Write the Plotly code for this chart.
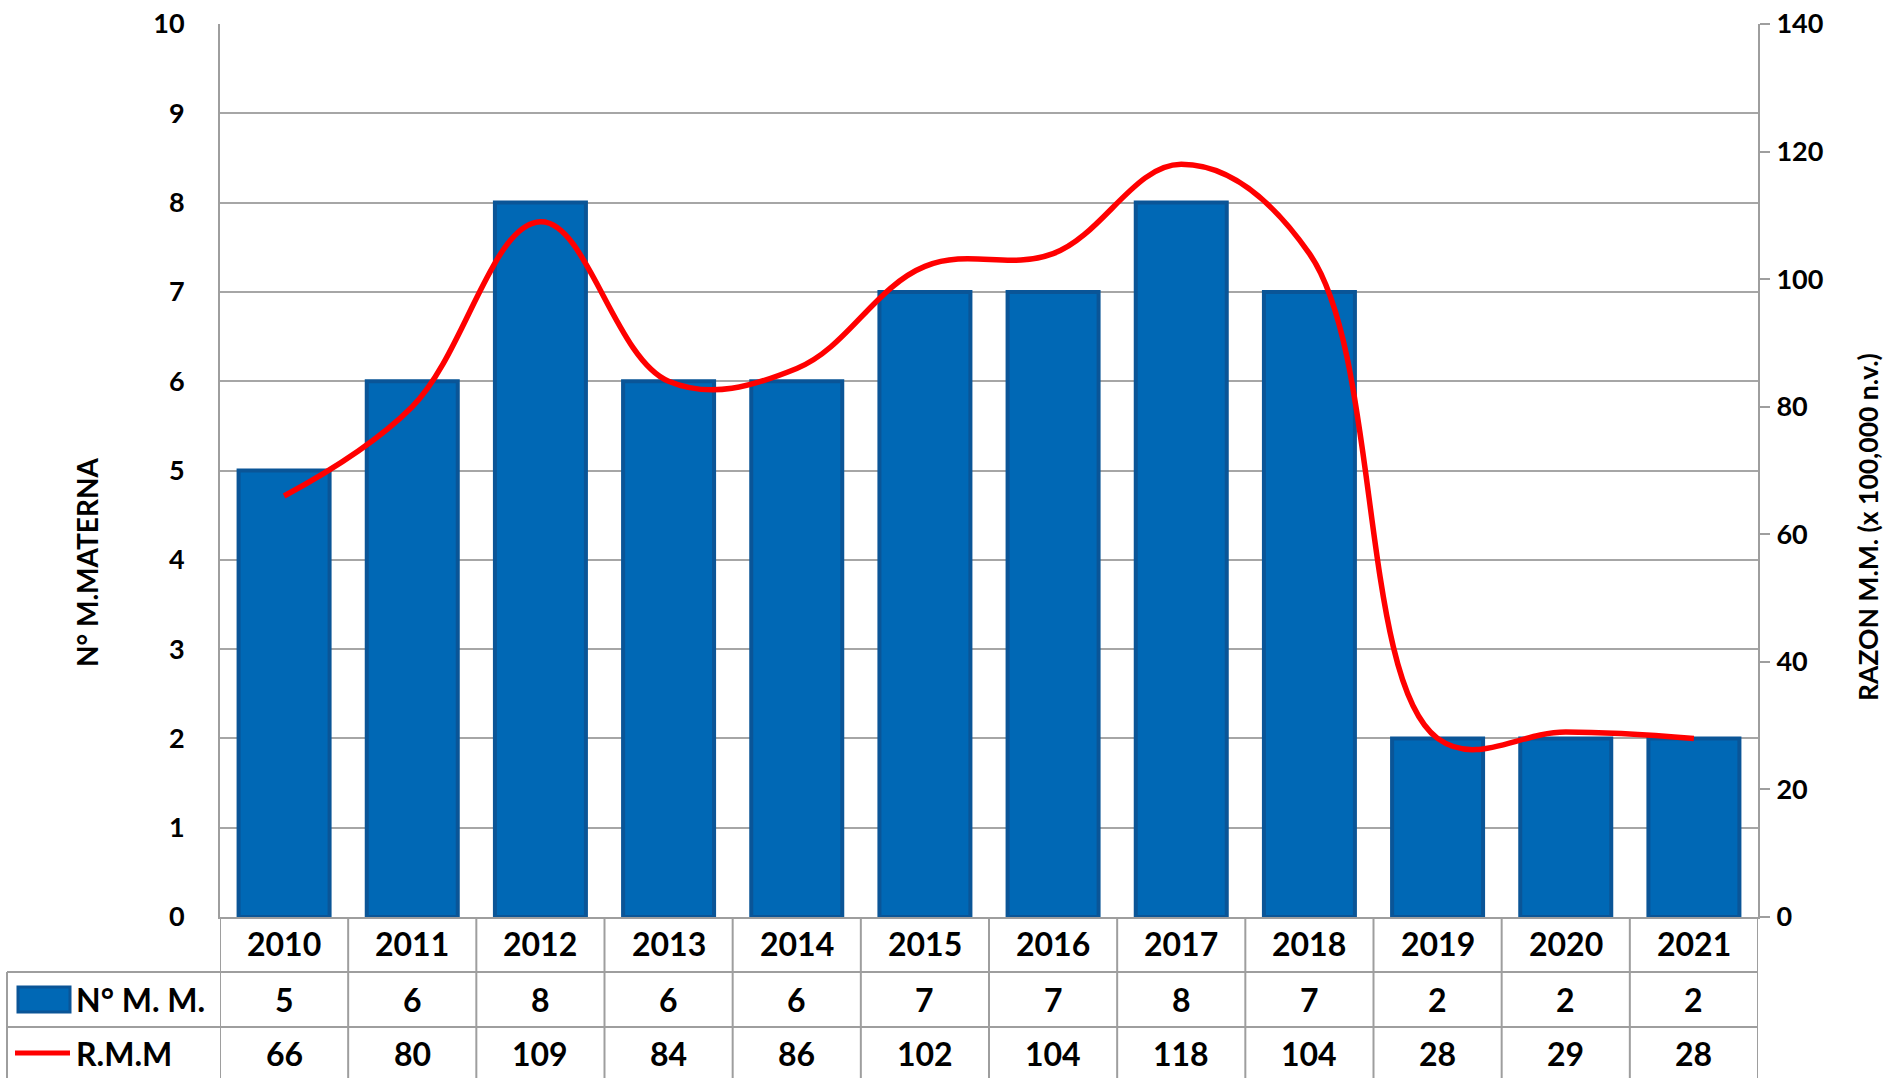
import plotly.graph_objects as go

years = ["2010", "2011", "2012", "2013", "2014", "2015", "2016", "2017", "2018", "2019", "2020", "2021"]
num_mm = [5, 6, 8, 6, 6, 7, 7, 8, 7, 2, 2, 2]
rmm = [66, 80, 109, 84, 86, 102, 104, 118, 104, 28, 29, 28]
left_ticks = list(range(0, 11))
right_ticks = list(range(0, 141, 20))

W, H = 1888, 1078
FONT = "Lato, 'Open Sans', sans-serif"
GRID = "#A6A6A6"
LINEC = "#9E9E9E"
BAR = "#0068B5"
BAR_EDGE = "#0A5597"

def px(x):
    return x / W

def py(y):
    return (H - y) / H

x0, x1 = 220, 1758
ytop, ybot = 24, 917

fig = go.Figure()
fig.add_trace(go.Bar(
    x=years, y=num_mm, name="N° M. M.",
    marker=dict(color=BAR, line=dict(color=BAR_EDGE, width=4)),
    width=0.71, yaxis="y",
))
fig.add_trace(go.Scatter(
    x=years, y=rmm, name="R.M.M", mode="lines",
    line=dict(color="#FF0000", width=5.5, shape="spline", smoothing=1.1),
    yaxis="y2",
))

shapes = []
# table column lines
for i in range(len(years) + 1):
    shapes.append(dict(type="line", xref="x", yref="paper",
                       x0=i - 0.5, x1=i - 0.5, y0=py(ybot), y1=py(H + 5),
                       line=dict(color=LINEC, width=2)))
# table row lines
for yy in (972, 1027):
    shapes.append(dict(type="line", xref="paper", yref="paper",
                       x0=px(7), x1=px(x1), y0=py(yy), y1=py(yy),
                       line=dict(color=LINEC, width=2)))
shapes.append(dict(type="line", xref="paper", yref="paper",
                   x0=px(7), x1=px(7), y0=py(972), y1=py(H + 5),
                   line=dict(color=LINEC, width=2)))
# legend keys
shapes.append(dict(type="rect", xref="paper", yref="paper",
                   x0=px(18), x1=px(70), y0=py(1012), y1=py(987),
                   fillcolor=BAR, line=dict(color=BAR_EDGE, width=3)))
shapes.append(dict(type="line", xref="paper", yref="paper",
                   x0=px(15), x1=px(70), y0=py(1053), y1=py(1053),
                   line=dict(color="#FF0000", width=5)))

TF = dict(size=32, color="black", family=FONT, weight="bold")
ann = []
for i, yr in enumerate(years):
    ann.append(dict(x=i, y=py(944), xref="x", yref="paper", text=yr,
                    showarrow=False, font=TF, xanchor="center", yanchor="middle"))
    ann.append(dict(x=i, y=py(999), xref="x", yref="paper", text=str(num_mm[i]),
                    showarrow=False, font=TF, xanchor="center", yanchor="middle"))
    ann.append(dict(x=i, y=py(1053), xref="x", yref="paper", text=str(rmm[i]),
                    showarrow=False, font=TF, xanchor="center", yanchor="middle"))
ann.append(dict(x=px(74), y=py(999), xref="paper", yref="paper", text="N° M. M.",
                showarrow=False, font=TF, xanchor="left", yanchor="middle"))
ann.append(dict(x=px(74), y=py(1053), xref="paper", yref="paper", text="R.M.M",
                showarrow=False, font=TF, xanchor="left", yanchor="middle"))
ann.append(dict(x=px(87), y=py(562), xref="paper", yref="paper", text="N° M.MATERNA",
                showarrow=False, textangle=-90,
                font=dict(size=28, color="black", family=FONT, weight="bold"),
                xanchor="center", yanchor="middle"))
ann.append(dict(x=px(1868), y=py(527), xref="paper", yref="paper",
                text="RAZON M.M. (x 100,000 n.v.)",
                showarrow=False, textangle=-90,
                font=dict(size=26.5, color="black", family=FONT, weight="bold"),
                xanchor="center", yanchor="middle"))

fig.update_layout(
    width=W, height=H,
    margin=dict(l=0, r=0, t=0, b=0, autoexpand=False),
    paper_bgcolor="white", plot_bgcolor="white",
    showlegend=False,
    xaxis=dict(type="category", domain=[px(x0), px(x1)], showticklabels=False, ticks="",
               showline=True, linecolor=LINEC, linewidth=2, showgrid=False,
               range=[-0.5, len(years) - 0.5], automargin=False, fixedrange=True),
    yaxis=dict(domain=[py(ybot), py(ytop)], range=[0, 10], tickvals=left_ticks,
               showgrid=True, gridcolor=GRID, gridwidth=2,
               showline=True, linecolor=LINEC, linewidth=2, ticks="",
               ticklabelstandoff=28, automargin=False, fixedrange=True,
               tickfont=dict(size=27, color="black", family=FONT, weight="bold"),
               zeroline=False),
    yaxis2=dict(overlaying="y", side="right", anchor="x", range=[0, 140],
                tickvals=right_ticks, showgrid=False,
                showline=True, linecolor=LINEC, linewidth=2,
                ticks="outside", ticklen=10, tickcolor=LINEC, tickwidth=2,
                ticklabelstandoff=1, automargin=False, fixedrange=True,
                tickfont=dict(size=27, color="black", family=FONT, weight="bold"),
                zeroline=False),
    shapes=shapes,
    annotations=ann,
)

fig.write_html("out.html", config={"displayModeBar": False},
               post_script="document.body.style.margin='0';document.body.style.overflow='hidden';")
